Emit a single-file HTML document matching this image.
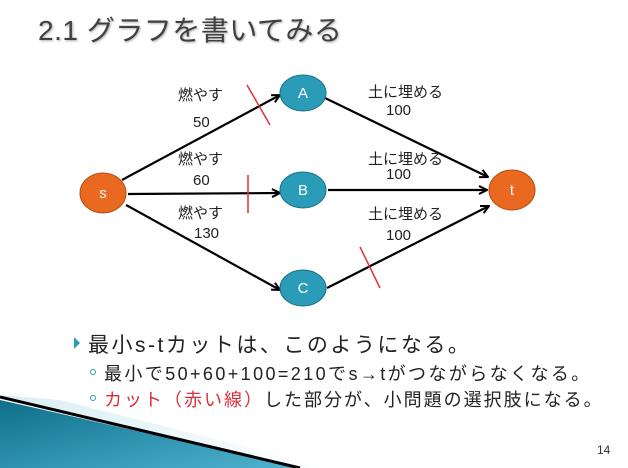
<!DOCTYPE html>
<html><head><meta charset="utf-8"><style>
body{margin:0;width:628px;height:468px;overflow:hidden;background:#fff;font-family:"Liberation Sans","Noto Sans CJK JP",sans-serif;position:relative}
.t{position:absolute;white-space:nowrap}
</style></head><body>
<div class="t" style="left:38px;top:9px;font-size:28px;letter-spacing:0.5px;color:#404040;text-shadow:1px 1px 2px #aaa">2.1 グラフを書いてみる</div>
<svg width="628" height="468" style="position:absolute;left:0;top:0">
<defs>
<marker id="ar" markerWidth="10" markerHeight="10" refX="9" refY="5" orient="auto" markerUnits="userSpaceOnUse"><path d="M1,1 L9,5 L1,9" fill="none" stroke="#000" stroke-width="2"/></marker>
<linearGradient id="tg" x1="0" y1="0" x2="1" y2="1"><stop offset="0" stop-color="#0e6f8a"/><stop offset="1" stop-color="#4fb3d0"/></linearGradient>
<linearGradient id="lg" x1="0" y1="0" x2="1" y2="0"><stop offset="0" stop-color="#bfe3ee"/><stop offset="1" stop-color="#fff"/></linearGradient>
</defs>
<polygon points="0,400 300,468 0,468" fill="url(#tg)"/>
<polygon points="0,395 300,468 330,468 60,400" fill="url(#lg)" opacity="0.6"/>
<line x1="0" y1="397" x2="300" y2="468" stroke="#000" stroke-width="3"/>
<g stroke="#000" stroke-width="2.2" fill="none">
<line x1="122" y1="180" x2="280" y2="95" marker-end="url(#ar)"/>
<line x1="128" y1="194" x2="280" y2="193" marker-end="url(#ar)"/>
<line x1="126" y1="205" x2="280" y2="290" marker-end="url(#ar)"/>
<line x1="325" y1="98" x2="488" y2="177" marker-end="url(#ar)"/>
<line x1="328" y1="190" x2="487" y2="190" marker-end="url(#ar)"/>
<line x1="327" y1="288" x2="489" y2="206" marker-end="url(#ar)"/>
</g>
<g stroke="#e0303a" stroke-width="1.5">
<line x1="247" y1="85" x2="270" y2="125"/>
<line x1="248" y1="175" x2="248" y2="213"/>
<line x1="360" y1="247" x2="380" y2="288"/>
</g>
<g font-size="15" fill="#fff" text-anchor="middle" font-family="Liberation Sans,sans-serif">
<ellipse cx="103" cy="193" rx="23" ry="20" fill="#e8691f" stroke="#b54e14"/><text x="103" y="198">s</text>
<ellipse cx="303" cy="93" rx="23" ry="18" fill="#2a9cb8" stroke="#1c7088"/><text x="303" y="98">A</text>
<ellipse cx="303" cy="190" rx="23" ry="18" fill="#2a9cb8" stroke="#1c7088"/><text x="303" y="195">B</text>
<ellipse cx="303" cy="288" rx="23" ry="18" fill="#2a9cb8" stroke="#1c7088"/><text x="303" y="293">C</text>
<ellipse cx="512" cy="190" rx="23" ry="20" fill="#e8691f" stroke="#b54e14"/><text x="512" y="195">t</text>
</g>
<g font-size="15" fill="#222" font-family="Liberation Sans,Noto Sans CJK JP,sans-serif">
<text x="178" y="100">燃やす</text><text x="193" y="127">50</text>
<text x="178" y="164">燃やす</text><text x="193" y="185">60</text>
<text x="178" y="218">燃やす</text><text x="194" y="238">130</text>
<text x="368" y="97">土に埋める</text><text x="386" y="115">100</text>
<text x="368" y="164">土に埋める</text><text x="386" y="179">100</text>
<text x="368" y="219">土に埋める</text><text x="386" y="240">100</text>
</g>
<polygon points="74,337 80,343 74,349" fill="#2a9cb8"/>
<circle cx="93" cy="372" r="2.5" fill="none" stroke="#2a9cb8"/>
<circle cx="93" cy="398" r="2.5" fill="none" stroke="#2a9cb8"/>
</svg>
<div class="t" style="left:88px;top:329px;font-size:21px;letter-spacing:2.5px;color:#222">最小s-tカットは、このようになる。</div>
<div class="t" style="left:104px;top:360px;font-size:18px;letter-spacing:2.4px;color:#222">最小で50+60+100=210でs→tがつながらなくなる。</div>
<div class="t" style="left:104px;top:386px;font-size:18px;letter-spacing:2px;color:#222"><span style="color:#d8303a">カット（赤い線）</span>した部分が、小問題の選択肢になる。</div>
<div class="t" style="left:597px;top:443px;font-size:12px;color:#333">14</div>
</body></html>
